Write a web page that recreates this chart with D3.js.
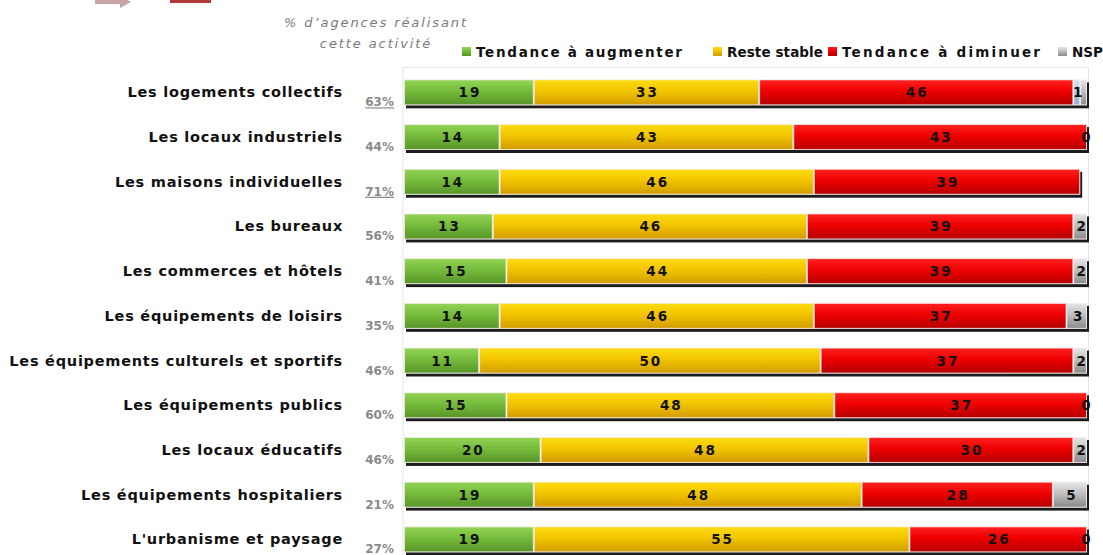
<!DOCTYPE html>
<meta charset="utf-8">
<script src="https://d3js.org/d3.v7.min.js"></script>
<style>
  body { margin: 0; background: #fff; }
</style>
<div id="my_dataviz"></div>
<script>
// data
var categories = ["Les logements collectifs", "Les locaux industriels", "Les maisons individuelles",
  "Les bureaux", "Les commerces et hôtels", "Les équipements de loisirs",
  "Les équipements culturels et sportifs", "Les équipements publics", "Les locaux éducatifs",
  "Les équipements hospitaliers", "L'urbanisme et paysage"];
var pctAgences = ["63%", "44%", "71%", "56%", "41%", "35%", "46%", "60%", "46%", "21%", "27%"];
var pctUnderlined = [true, false, true, false, false, false, false, false, false, false, false];
var augmenter = [19, 14, 14, 13, 15, 14, 11, 15, 20, 19, 19];
var stable = [33, 43, 46, 46, 44, 46, 50, 48, 48, 48, 55];
var diminuer = [46, 43, 39, 39, 39, 37, 37, 37, 30, 28, 26];
var autre = [1, 0, 0, 0, 0, 0, 0, 0, 0, 0, 0];
var nsp = [1, 0, 0, 2, 2, 3, 2, 0, 2, 5, 0];
var autreLabels = ["1", "", "", "", "", "", "", "", "", "", ""];
var nspLabels = ["", "0", "", "2", "2", "3", "2", "0", "2", "5", "0"];
var legendNames = ["Tendance à augmenter", "Reste stable", "Tendance à diminuer", "NSP"];
var titleLines = ["% d’agences réalisant", "cette activité"];

var width = 1103, height = 555;

var svg = d3.select("#my_dataviz")
  .append("svg")
    .attr("width", width)
    .attr("height", height)
    .style("display", "block");

// gradients for the bar fills
var colors = {
  aug: ["#93d556", "#76bb3c", "#579528"],
  sta: ["#fcdc10", "#f2c400", "#d29c00"],
  dim: ["#ff2020", "#ee0000", "#b50000"],
  aut: ["#d2e4f6", "#b0cbe6", "#8fb0d4"],
  nsp: ["#e6e6e6", "#c0c0c0", "#8a8a8a"]
};
var defs = svg.append("defs");
Object.keys(colors).forEach(function(k) {
  var g = defs.append("linearGradient")
    .attr("id", "g_" + k)
    .attr("x1", 0).attr("y1", 0).attr("x2", 0).attr("y2", 1);
  g.append("stop").attr("offset", "0%").attr("stop-color", colors[k][0]);
  g.append("stop").attr("offset", "45%").attr("stop-color", colors[k][1]);
  g.append("stop").attr("offset", "100%").attr("stop-color", colors[k][2]);
});

// scales
var x = d3.scaleLinear()
  .domain([0, 100])
  .range([404, 1087]);
var y = d3.scaleBand()
  .domain(categories)
  .range([70, 561.7])
  .paddingInner(0.42)
  .paddingOuter(0.21);

// cut-off header decorations at the very top
svg.append("path")
  .attr("d", "M95,0 L120,0 L120,-4 L131,2 L120,8 L120,4 L95,4 Z")
  .attr("fill", "#c9a4a4");
svg.append("rect")
  .attr("x", 170).attr("y", -2).attr("width", 41).attr("height", 5)
  .attr("fill", "#b23a3a");

// faint plot frame
svg.append("path")
  .attr("d", "M" + (x(0) - 1) + "," + height + " V67.5 H" + (x(100) + 1.5) + " V" + height)
  .attr("fill", "none")
  .attr("stroke", "#e4e4e4")
  .attr("stroke-width", 1);

// title over the percentages
svg.append("g").selectAll("text")
  .data(titleLines)
  .enter()
  .append("text")
    .attr("x", 376)
    .attr("y", function(d, i) { return 27 + i * 21 })
    .attr("text-anchor", "middle")
    .style("font-family", "DejaVu Sans")
    .style("font-style", "italic")
    .style("font-size", "13px")
    .style("letter-spacing", "1.9px")
    .style("fill", "#7a7a7a")
    .text(function(d) { return d });

// legend
var legendX = [462, 713, 828, 1058];
var legendW = [206, 96, 198, 31];
var legendKeys = ["aug", "sta", "dim", "nsp"];
var legend = svg.append("g").selectAll("g")
  .data(legendNames)
  .enter()
  .append("g")
    .attr("transform", function(d, i) { return "translate(" + legendX[i] + ",0)" });
legend.append("rect")
  .attr("x", 0).attr("y", 47)
  .attr("width", 9).attr("height", 9)
  .attr("fill", function(d, i) { return "url(#g_" + legendKeys[i] + ")" });
legend.append("text")
  .attr("x", 14).attr("y", 57)
  .attr("textLength", function(d, i) { return legendW[i] })
  .attr("lengthAdjust", "spacing")
  .style("font-family", "DejaVu Sans")
  .style("font-weight", "bold")
  .style("font-size", "13.5px")
  .style("fill", "#111")
  .text(function(d) { return d });

// category labels
svg.append("g").selectAll("text")
  .data(categories)
  .enter()
  .append("text")
    .attr("x", 343)
    .attr("y", function(d) { return y(d) + y.bandwidth() / 2 + 5 })
    .attr("text-anchor", "end")
    .style("font-family", "DejaVu Sans")
    .style("font-weight", "bold")
    .style("font-size", "14.5px")
    .style("letter-spacing", "0.75px")
    .style("fill", "#111")
    .text(function(d) { return d });

// % of agencies
svg.append("g").selectAll("text")
  .data(pctAgences)
  .enter()
  .append("text")
    .attr("x", 394)
    .attr("y", function(d, i) { return y(categories[i]) + y.bandwidth() / 2 + 14 })
    .attr("text-anchor", "end")
    .style("font-family", "DejaVu Sans")
    .style("font-weight", "bold")
    .style("font-size", "12px")
    .style("fill", "#8a8a8a")
    .style("text-decoration", function(d, i) { return pctUnderlined[i] ? "underline" : "none" })
    .text(function(d) { return d });

// build the stacked rows
var rows = categories.map(function(c, i) {
  var parts = [
    { key: "aug", v: augmenter[i], label: String(augmenter[i]) },
    { key: "sta", v: stable[i], label: String(stable[i]) },
    { key: "dim", v: diminuer[i], label: String(diminuer[i]) },
    { key: "aut", v: autre[i], label: autreLabels[i] },
    { key: "nsp", v: nsp[i], label: nspLabels[i] }
  ];
  var acc = 0;
  parts.forEach(function(p) { p.x0 = acc; acc += p.v; p.x1 = acc; });
  return { cat: c, parts: parts, total: acc };
});

var row = svg.append("g").selectAll("g")
  .data(rows)
  .enter()
  .append("g")
    .attr("transform", function(d) { return "translate(0," + y(d.cat) + ")" });

// dark drop shadow under each bar
row.append("rect")
  .attr("x", x(0) + 2)
  .attr("y", 3)
  .attr("width", function(d) { return x(d.total) - x(0) })
  .attr("height", y.bandwidth())
  .attr("fill", "#1c1c1c");
row.append("rect")
  .attr("x", x(0))
  .attr("y", 0)
  .attr("width", function(d) { return x(d.total) - x(0) })
  .attr("height", y.bandwidth())
  .attr("fill", "#fff");

row.selectAll(".seg")
  .data(function(d) { return d.parts.filter(function(p) { return p.v > 0 }) })
  .enter()
  .append("rect")
    .attr("class", "seg")
    .attr("x", function(p) { return x(p.x0) + 0.5 })
    .attr("y", 0.5)
    .attr("width", function(p) { return Math.max(0, x(p.x1) - x(p.x0) - 1) })
    .attr("height", y.bandwidth() - 1)
    .attr("fill", function(p) { return "url(#g_" + p.key + ")" })
    .attr("stroke", "#f6eaea")
    .attr("stroke-opacity", 0.7)
    .attr("stroke-width", 1);

row.selectAll(".lab")
  .data(function(d) { return d.parts.filter(function(p) { return p.label !== "" }) })
  .enter()
  .append("text")
    .attr("class", "lab")
    .attr("x", function(p) { return p.v > 0 ? (x(p.x0) + x(p.x1)) / 2 + 1 : x(p.x0) - 1 })
    .attr("y", y.bandwidth() / 2 + 5)
    .attr("text-anchor", "middle")
    .style("font-family", "DejaVu Sans")
    .style("font-weight", "bold")
    .style("font-size", "13.5px")
    .style("letter-spacing", function(p) { return p.label.length > 1 ? "2px" : "0px" })
    .style("fill", "#111")
    .text(function(p) { return p.label });
</script>
